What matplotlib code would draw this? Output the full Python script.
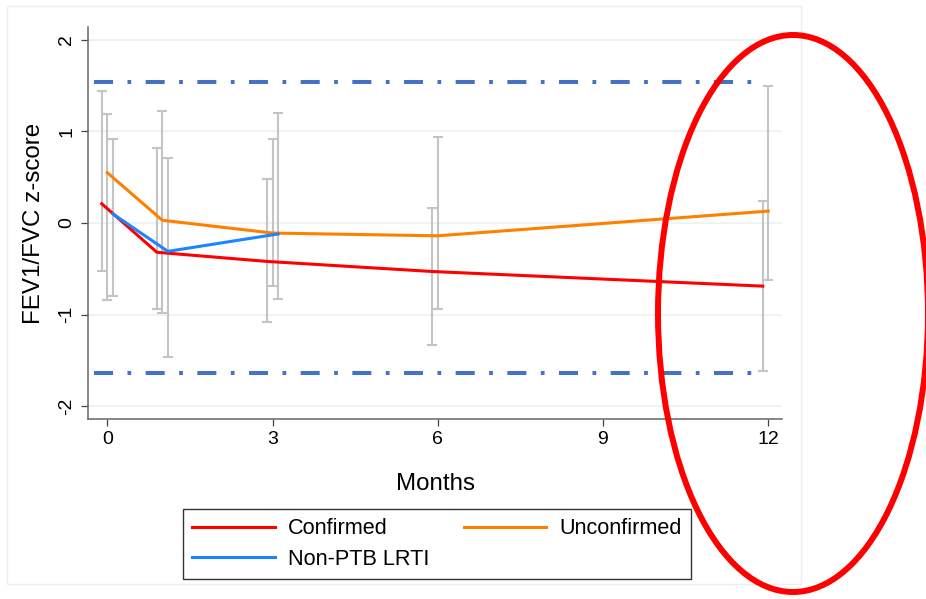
import numpy as np
import matplotlib.pyplot as plt
from matplotlib.patches import Ellipse, Rectangle

plt.rcParams['font.family'] = ['Liberation Sans', 'DejaVu Sans']
plt.rcParams['lines.scale_dashes'] = False
plt.rcParams['axes.unicode_minus'] = False

# data (z-scores)
conf_months = [0, 1, 3, 6, 12]
conf_mean = [0.21, -0.32, -0.42, -0.53, -0.69]
conf_lo = [-0.53, -0.94, -1.08, -1.33, -1.62]
conf_hi = [1.44, 0.82, 0.48, 0.16, 0.24]

unconf_months = [0, 1, 3, 6, 12]
unconf_mean = [0.55, 0.03, -0.11, -0.14, 0.13]
unconf_lo = [-0.84, -0.98, -0.69, -0.94, -0.62]
unconf_hi = [1.19, 1.22, 0.92, 0.94, 1.50]

lrti_months = [0, 1, 3]
lrti_mean = [0.10, -0.31, -0.12]
lrti_lo = [-0.80, -1.46, -0.83]
lrti_hi = [0.92, 0.71, 1.20]

uln = 1.54
lln = -1.64

fig = plt.figure(figsize=(9.26, 5.99), dpi=100)
W, H = 926, 599
ax = fig.add_axes([88 / W, 1 - 419 / H, (782 - 88) / W, (419 - 27) / H])

# faint outer graph region border
fig.add_artist(Rectangle((7 / W, 1 - 584 / H), 794 / W, 578 / H, transform=fig.transFigure,
                         fill=False, ec='#e8f0f2', lw=1))

series = [
    ('Confirmed', conf_months, conf_mean, conf_lo, conf_hi, '#ff0000', -0.1),
    ('Unconfirmed', unconf_months, unconf_mean, unconf_lo, unconf_hi, '#ff8000', 0.0),
    ('Non-PTB LRTI', lrti_months, lrti_mean, lrti_lo, lrti_hi, '#1a85ff', 0.1),
]

handles = {}
for name, m, mean, lo, hi, col, off in series:
    x = np.array(m) + off
    mean = np.array(mean)
    yerr = [mean - np.array(lo), np.array(hi) - mean]
    ax.errorbar(x, mean, yerr=yerr, fmt='none', ecolor='#c4c4c4', elinewidth=1.5,
                capsize=3.3, capthick=1.5, zorder=2)
    ln, = ax.plot(x, mean, color=col, lw=2.2, label=name, zorder=3)
    handles[name] = ln

# normal limits, dash-dot
for yv in [uln, lln]:
    ax.plot([-0.24, 11.8], [yv, yv], color='#4472c4', lw=2.9,
            dashes=(13.7, 10.4, 2.7, 10.4), zorder=2)

ax.set_xlim(-0.35, 12.25)
ax.set_ylim(-2.142, 2.142)
ax.set_xticks([0, 3, 6, 9, 12])
ax.set_yticks([-2, -1, 0, 1, 2])
ax.grid(axis='y', color='#eaf2f3', lw=1.2)
ax.set_axisbelow(True)
for s in ['top', 'right']:
    ax.spines[s].set_visible(False)
for s in ['left', 'bottom']:
    ax.spines[s].set_color('#666666')
    ax.spines[s].set_linewidth(1.1)
ax.tick_params(length=5, width=0.9, color='#444444', labelsize=14, pad=4)
plt.setp(ax.get_yticklabels(), rotation=90, va='center')
ax.set_ylabel('FEV1/FVC z-score', fontsize=17.4, labelpad=10)
ax.set_xlabel('Months', fontsize=17.4, labelpad=18)

order = ['Confirmed', 'Non-PTB LRTI', 'Unconfirmed']
leg = fig.legend([handles[k] for k in order], order, ncol=2, loc='upper center',
                 bbox_to_anchor=(437 / W, 1 - 509 / H), bbox_transform=fig.transFigure,
                 borderaxespad=0, fontsize=15.6, handlelength=3.8, handletextpad=0.6,
                 columnspacing=1.6, labelspacing=0.45, borderpad=0.42,
                 fancybox=False, edgecolor='black')
leg.get_frame().set_linewidth(1.0)

# red annotation ellipse
fig.add_artist(Ellipse((793 / W, 1 - 313.5 / H), 270 / W, 557 / H, transform=fig.transFigure,
                       fill=False, ec='#ff0000', lw=4.3, clip_on=False))

fig.savefig('out.png', dpi=100)
